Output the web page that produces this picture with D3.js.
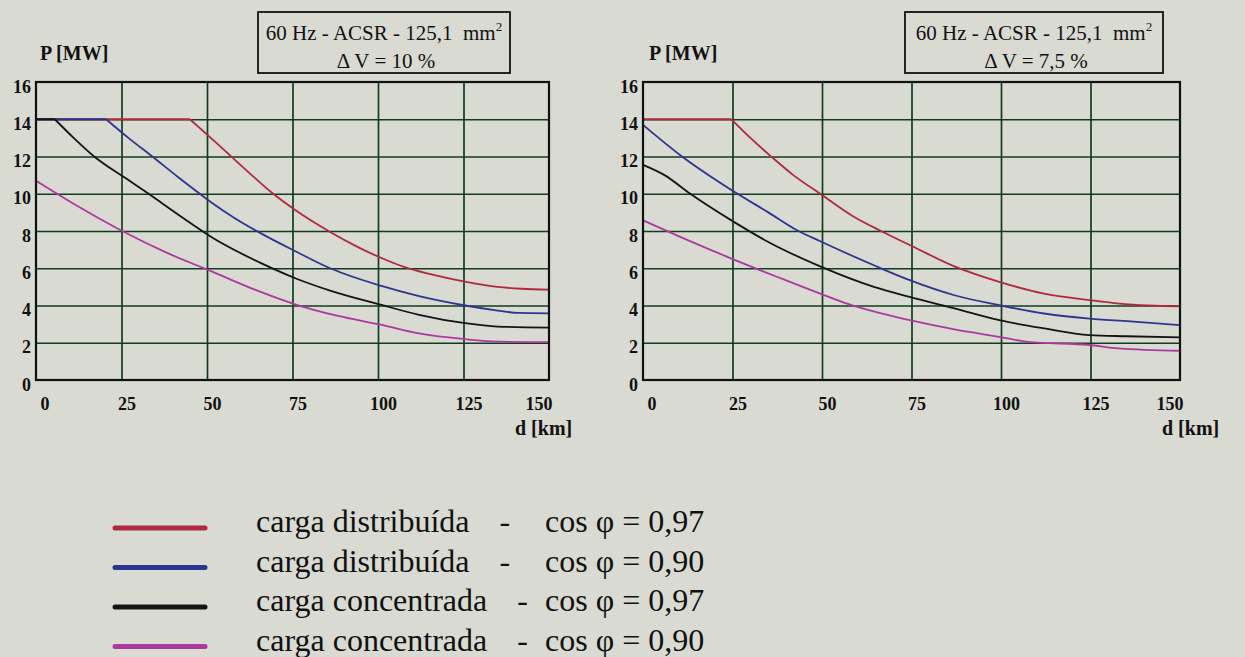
<!DOCTYPE html>
<html>
<head>
<meta charset="utf-8">
<script src="https://cdn.jsdelivr.net/npm/d3@7"></script>
<style>
body { margin: 0; background: #d9dad2; }
svg { display: block; font-family: "Liberation Serif", "Times New Roman", serif; }
</style>
</head>
<body>
<div id="main"></div>
<script>
const ctx = {
    w: 1245,
    h: 657,
    bg: "#d9dad2",
    gridColor: "#103d1e",
    curveWidth: 1.8
};

// legend / series
const SERIES_NAMES = ["carga distribuída", "carga distribuída", "carga concentrada", "carga concentrada"];
const SERIES_COS = ["0,97", "0,90", "0,97", "0,90"];
const SERIES_COLORS = ["#b02a3c", "#2e3590", "#141414", "#ac3a9e"];

const X_TICKS = [0, 25, 50, 75, 100, 125, 150];
const Y_TICKS = [0, 2, 4, 6, 8, 10, 12, 14, 16];

// ΔV = 10 %   [d km, P MW]
const DV10_RED = [[0,14],[45,14],[52,12.85],[58,11.85],[64,10.85],[69,10.05],[76,9.1],[86,7.95],[94,7.15],[101,6.55],[108,6.05],[115,5.7],[125,5.3],[135,5.0],[142,4.9],[150,4.85]];
const DV10_BLUE = [[0,14],[20.5,14],[27,13],[34,12],[41.5,10.9],[47.5,10.05],[51.5,9.5],[58,8.7],[65.5,7.9],[76,6.9],[86,6.0],[101,5.05],[112,4.5],[125.5,4.0],[135,3.73],[141,3.6],[150,3.58]];
const DV10_BLACK = [[0,14],[5.5,14],[11,13],[17,12],[26.5,10.8],[32.5,10.05],[43,8.7],[51.5,7.65],[65.5,6.3],[76,5.45],[86,4.8],[101,4.03],[112,3.5],[125.5,3.05],[135,2.87],[150,2.81]];
const DV10_PURPLE = [[0,10.7],[12.5,9.3],[25.5,7.97],[38,6.85],[51.5,5.82],[64,4.85],[76,4.05],[88,3.45],[101,2.96],[112,2.5],[125.5,2.19],[135,2.06],[150,2.03]];

// ΔV = 7,5 %
const DV75_RED = [[0,14],[24.7,14],[30,13],[35.5,12.05],[42,11],[49.5,10],[59,8.75],[67,7.95],[74.5,7.25],[87,6.1],[99.5,5.27],[112,4.64],[124.7,4.29],[133,4.1],[141,4.0],[150,3.96]];
const DV75_BLUE = [[0,13.7],[10.9,12],[24.7,10.2],[35,9],[43,8.04],[49.5,7.45],[64.5,6.16],[74.5,5.36],[87,4.55],[99.5,4.02],[112,3.57],[124.7,3.3],[137,3.13],[150,2.95]];
const DV75_BLACK = [[0,11.55],[6,11],[13.2,10],[24.7,8.57],[35,7.41],[49.5,6.1],[64.5,5.0],[74.5,4.46],[87,3.84],[99.5,3.21],[112,2.77],[124.7,2.41],[135,2.35],[150,2.29]];
const DV75_PURPLE = [[0,8.57],[12,7.55],[24.7,6.52],[31.6,5.98],[40,5.35],[49.5,4.64],[57,4.1],[66,3.6],[74.5,3.21],[87,2.72],[99.5,2.32],[107.5,2.05],[124.7,1.88],[132.8,1.7],[150,1.57]];

const TITLE_LINE1 = "60 Hz - ACSR - 125,1\u00a0\u00a0mm";
const TITLE_DV = ["Δ V = 10 %", "Δ V = 7,5 %"];

// panel layout (pixels)
const panels = [
    {x0: 36, x1: 549, y0: 380, y1: 82, box: [258, 12, 252, 61], pLabelX: 40, dLabelX: 515,
     series: [DV10_RED, DV10_BLUE, DV10_BLACK, DV10_PURPLE], dv: TITLE_DV[0]},
    {x0: 643, x1: 1180, y0: 380, y1: 82, box: [905, 12, 258, 61], pLabelX: 649, dLabelX: 1162,
     series: [DV75_RED, DV75_BLUE, DV75_BLACK, DV75_PURPLE], dv: TITLE_DV[1]}
];

// plateau drawn straight, the falling part smoothed
function curvePath(data, x, y){
    let flat = d3.line().x(d => x(d[0])).y(d => y(d[1]));
    let smooth = d3.line().x(d => x(d[0])).y(d => y(d[1])).curve(d3.curveMonotoneX);
    let k = 0;
    while (k + 1 < data.length && data[k + 1][1] == data[0][1]) k++;
    if (k == 0) return smooth(data);
    return flat(data.slice(0, k + 1)) + smooth(data.slice(k));
}

function drawPanel(svg, p){
    let x = d3.scaleLinear().domain([0, 150]).range([p.x0, p.x1]);
    let y = d3.scaleLinear().domain([0, 16]).range([p.y0, p.y1]);
    let g = svg.append("g");

    // grid
    let gx = g.append("g").attr("transform", `translate(0,${p.y0})`)
        .call(d3.axisBottom(x).tickValues(X_TICKS.slice(1, -1)).tickSize(-(p.y0 - p.y1)).tickFormat(""));
    let gy = g.append("g").attr("transform", `translate(${p.x0},0)`)
        .call(d3.axisLeft(y).tickValues(Y_TICKS.slice(1, -1)).tickSize(-(p.x1 - p.x0)).tickFormat(""));
    [gx, gy].forEach(a => {
        a.select(".domain").remove();
        a.selectAll("line").attr("stroke", ctx.gridColor).attr("stroke-width", 1.7);
    });

    // curves
    g.append("g").selectAll("path")
        .data(p.series)
        .enter()
        .append("path")
        .attr("d", d => curvePath(d, x, y))
        .attr("fill", "none")
        .attr("stroke", (d, i) => SERIES_COLORS[i])
        .attr("stroke-width", ctx.curveWidth)
        .attr("stroke-linejoin", "round");

    // frame
    g.append("rect")
        .attr("x", p.x0).attr("y", p.y1)
        .attr("width", p.x1 - p.x0).attr("height", p.y0 - p.y1)
        .attr("fill", "none").attr("stroke", "#111").attr("stroke-width", 2.2);

    // tick labels
    let lx = g.append("g").attr("transform", `translate(0,${p.y0})`)
        .call(d3.axisBottom(x).tickValues(X_TICKS).tickSize(0));
    lx.select(".domain").remove();
    lx.attr("font-family", null).attr("font-size", null);
    lx.selectAll("text")
        .attr("y", 30).attr("dy", null)
        .attr("font-size", 18).attr("font-weight", "bold").attr("fill", "#111")
        .attr("text-anchor", (d, i) => i == 0 ? "start" : (i == X_TICKS.length - 1 ? "end" : "middle"))
        .attr("dx", (d, i) => i == 0 ? 4 : (i == X_TICKS.length - 1 ? 3 : 5));

    let ly = g.append("g").attr("transform", `translate(${p.x0},0)`)
        .call(d3.axisLeft(y).tickValues(Y_TICKS).tickSize(0).tickPadding(5));
    ly.select(".domain").remove();
    ly.attr("font-family", null).attr("font-size", null);
    ly.selectAll("text")
        .attr("dy", 10)
        .attr("font-size", 18).attr("font-weight", "bold").attr("fill", "#111");

    // axis titles
    g.append("text").attr("x", p.pLabelX).attr("y", 60)
        .attr("font-size", 20).attr("font-weight", "bold").attr("fill", "#111")
        .text("P [MW]");
    g.append("text").attr("x", p.dLabelX).attr("y", 435)
        .attr("font-size", 20).attr("font-weight", "bold").attr("fill", "#111")
        .text("d [km]");

    // title box
    let [bx, by, bw, bh] = p.box;
    g.append("rect").attr("x", bx).attr("y", by).attr("width", bw).attr("height", bh)
        .attr("fill", "none").attr("stroke", "#111").attr("stroke-width", 1.8);
    let t1 = g.append("text").attr("x", bx + bw / 2).attr("y", by + 28)
        .attr("text-anchor", "middle").attr("font-size", 21).attr("fill", "#111");
    t1.append("tspan").text(TITLE_LINE1);
    t1.append("tspan").attr("dy", -9).attr("font-size", 13).text("2");
    g.append("text").attr("x", bx + bw / 2 + 2).attr("y", by + 56)
        .attr("text-anchor", "middle").attr("font-size", 21).attr("fill", "#111")
        .text(p.dv);
}

function drawLegend(svg){
    let lg = svg.append("g").attr("id", "legend");
    let rows = lg.selectAll("g.row")
        .data(SERIES_NAMES)
        .enter()
        .append("g")
        .attr("class", "row")
        .attr("transform", (d, i) => `translate(0,${528 + 39.5 * i})`);
    rows.append("line")
        .attr("x1", 115).attr("x2", 205)
        .attr("stroke", (d, i) => SERIES_COLORS[i])
        .attr("stroke-width", 5)
        .attr("stroke-linecap", "round");
    rows.append("text")
        .attr("class", "name")
        .attr("x", 256).attr("y", 4)
        .attr("font-size", 32).attr("fill", "#111")
        .text(d => d);
    rows.each(function(d, i){
        let row = d3.select(this);
        let len = row.select("text.name").node().getComputedTextLength();
        row.append("text")
            .attr("x", 256 + len + 30).attr("y", 4)
            .attr("font-size", 32).attr("fill", "#111")
            .text("-");
        row.append("text")
            .attr("x", 545).attr("y", 4)
            .attr("font-size", 32).attr("fill", "#111")
            .text(`cos φ = ${SERIES_COS[i]}`);
    });
}

function createViz(){
    let svg = d3.select("#main").append("svg")
        .attr("width", ctx.w)
        .attr("height", ctx.h);
    svg.append("rect")
        .attr("width", "100%").attr("height", "100%")
        .attr("fill", ctx.bg);
    panels.forEach(p => drawPanel(svg, p));
    drawLegend(svg);
}

createViz();
</script>
</body>
</html>
